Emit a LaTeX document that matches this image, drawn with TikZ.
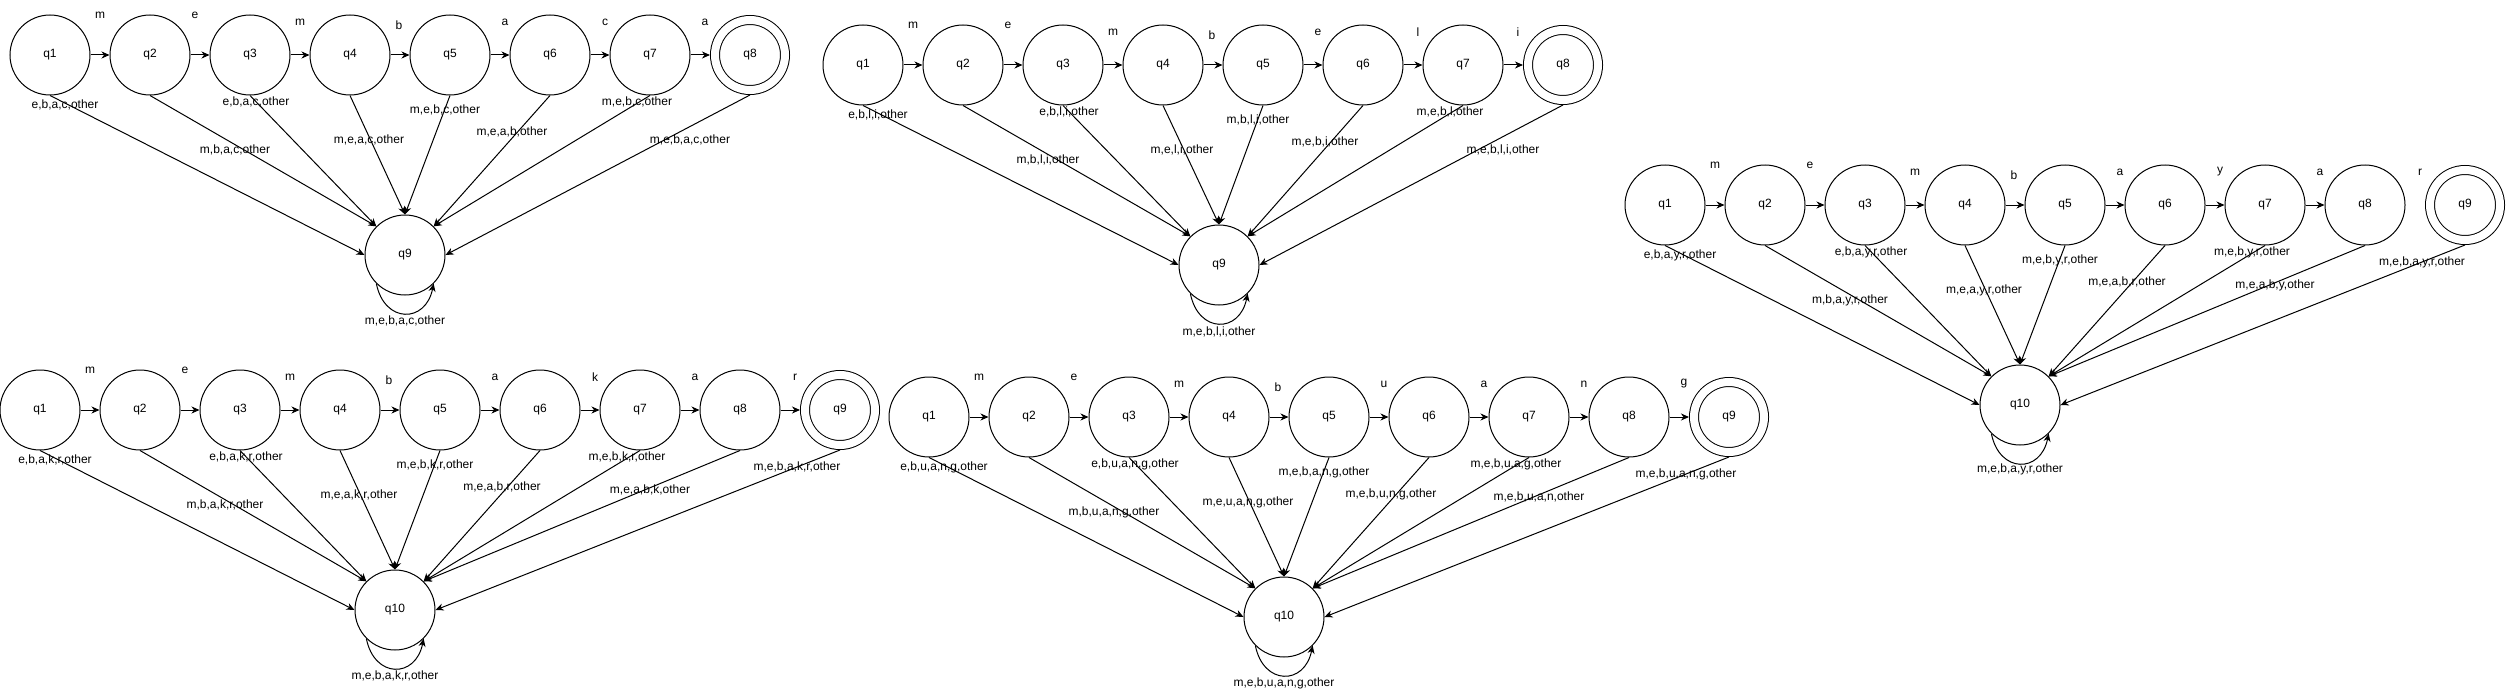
\documentclass[tikz,border=0pt]{standalone}
\usepackage{fontspec}
\setmainfont{Liberation Sans}
\usetikzlibrary{arrows.meta,calc}
\tikzset{
  every node/.style={font=\fontsize{12pt}{14pt}\selectfont},
  st/.style={circle,draw,line width=1pt,minimum size=80pt,inner sep=0pt},
  acc/.style={circle,draw,line width=1pt,double,double distance=8pt,minimum size=70pt,inner sep=0pt,outer sep=5pt},
  arr/.style={line width=1pt,-{Stealth[length=8pt,width=7pt,inset=2.5pt]}},
  lbl/.style={inner sep=0pt},
  loopc/.style={arr},
}
\begin{document}
\begin{tikzpicture}[x=1pt,y=-1pt]
\useasboundingbox (0,0) rectangle (2506,698);

% ---------------- Diagram A (membaca) ----------------
\begin{scope}[shift={(50,55)}]
  \foreach \i in {1,...,7} \node[st] (A\i) at ({(\i-1)*100},0) {q\i};
  \node[acc] (A8) at (700,0) {q8};
  \node[st] (A9) at (355,200) {q9};
  \foreach \i/\j in {1/2,2/3,3/4,4/5,5/6,6/7,7/8} \draw[arr] (A\i.east) -- (A\j.west);
  \foreach \i/\ch/\dx/\dy in {1/m/50/-40,2/e/45/-40,3/m/50/-33,4/b/49/-30,5/a/55/-33,6/c/55/-33,7/a/55/-33}
    \node[lbl] (A-t\i) at ({(\i-1)*100+(\dx)},{\dy}) {\ch};
  \foreach \i/\an/\dx/\dy/\lab in {1/west/15/50/{e,b,a,c,other},2/north west/85/95/{m,b,a,c,other},3/north west/6/47/{e,b,a,c,other},4/north/19/85/{m,e,a,c,other},5/north/-5/55/{m,e,b,c,other},6/north east/-38/77/{m,e,a,b,other},7/north east/-13/47/{m,e,b,c,other},8/east/-60/85/{m,e,b,a,c,other}}{
    \draw[arr] (A\i.south) -- (A9.\an);
    \node[lbl] (A-l\i) at ({(\i-1)*100+(\dx)},{\dy}) {\lab};
  }
  \draw[loopc] (A9.225) .. controls +(8,40) and +(-8,40) .. (A9.315);
  \node[lbl] (A-loop) at (355,266) {m,e,b,a,c,other};
\end{scope}

% ---------------- Diagram B (membeli) ----------------
\begin{scope}[shift={(863,65)}]
  \foreach \i in {1,...,7} \node[st] (B\i) at ({(\i-1)*100},0) {q\i};
  \node[acc] (B8) at (700,0) {q8};
  \node[st] (B9) at (356,200) {q9};
  \foreach \i/\j in {1/2,2/3,3/4,4/5,5/6,6/7,7/8} \draw[arr] (B\i.east) -- (B\j.west);
  \foreach \i/\ch/\dx/\dy in {1/m/50/-40,2/e/45/-40,3/m/50/-33,4/b/49/-30,5/e/55/-33,6/l/55/-33,7/i/55/-33}
    \node[lbl] (B-t\i) at ({(\i-1)*100+(\dx)},{\dy}) {\ch};
  \foreach \i/\an/\dx/\dy/\lab in {1/west/15/50/{e,b,l,i,other},2/north west/85/95/{m,b,l,i,other},3/north west/6/47/{e,b,l,i,other},4/north/19/85/{m,e,l,i,other},5/north/-5/55/{m,b,l,i,other},6/north east/-38/77/{m,e,b,i,other},7/north east/-13/47/{m,e,b,l,other},8/east/-60/85/{m,e,b,l,i,other}}{
    \draw[arr] (B\i.south) -- (B9.\an);
    \node[lbl] (B-l\i) at ({(\i-1)*100+(\dx)},{\dy}) {\lab};
  }
  \draw[loopc] (B9.225) .. controls +(8,40) and +(-8,40) .. (B9.315);
  \node[lbl] (B-loop) at (356,267) {m,e,b,l,i,other};
\end{scope}

% ---------------- Diagram C (membakar) ----------------
\begin{scope}[shift={(40,410)}]
  \foreach \i in {1,...,8} \node[st] (C\i) at ({(\i-1)*100},0) {q\i};
  \node[acc] (C9) at (800,0) {q9};
  \node[st] (C10) at (355,200) {q10};
  \foreach \i/\j in {1/2,2/3,3/4,4/5,5/6,6/7,7/8,8/9} \draw[arr] (C\i.east) -- (C\j.west);
  \foreach \i/\ch/\dx/\dy in {1/m/50/-40,2/e/45/-40,3/m/50/-33,4/b/49/-30,5/a/55/-33,6/k/55/-33,7/a/55/-33,8/r/55/-33}
    \node[lbl] (C-t\i) at ({(\i-1)*100+(\dx)},{\dy}) {\ch};
  \foreach \i/\an/\dx/\dy/\lab in {1/west/15/50/{e,b,a,k,r,other},2/north west/85/95/{m,b,a,k,r,other},3/north west/6/47/{e,b,a,k,r,other},4/north/19/85/{m,e,a,k,r,other},5/north/-5/55/{m,e,b,k,r,other},6/north east/-38/77/{m,e,a,b,r,other},7/north east/-13/47/{m,e,b,k,r,other},8/north east/-90/80/{m,e,a,b,k,other},9/east/-43/57/{m,e,b,a,k,r,other}}{
    \draw[arr] (C\i.south) -- (C10.\an);
    \node[lbl] (C-l\i) at ({(\i-1)*100+(\dx)},{\dy}) {\lab};
  }
  \draw[loopc] (C10.225) .. controls +(8,40) and +(-8,40) .. (C10.315);
  \node[lbl] (C-loop) at (355,266) {m,e,b,a,k,r,other};
\end{scope}

% ---------------- Diagram D (membuang) ----------------
\begin{scope}[shift={(929,417)}]
  \foreach \i in {1,...,8} \node[st] (D\i) at ({(\i-1)*100},0) {q\i};
  \node[acc] (D9) at (800,0) {q9};
  \node[st] (D10) at (355,200) {q10};
  \foreach \i/\j in {1/2,2/3,3/4,4/5,5/6,6/7,7/8,8/9} \draw[arr] (D\i.east) -- (D\j.west);
  \foreach \i/\ch/\dx/\dy in {1/m/50/-40,2/e/45/-40,3/m/50/-33,4/b/49/-30,5/u/55/-33,6/a/55/-33,7/n/55/-33,8/g/55/-33}
    \node[lbl] (D-t\i) at ({(\i-1)*100+(\dx)},{\dy}) {\ch};
  \foreach \i/\an/\dx/\dy/\lab in {1/west/15/50/{e,b,u,a,n,g,other},2/north west/85/95/{m,b,u,a,n,g,other},3/north west/6/47/{e,b,u,a,n,g,other},4/north/19/85/{m,e,u,a,n,g,other},5/north/-5/55/{m,e,b,a,n,g,other},6/north east/-38/77/{m,e,b,u,n,g,other},7/north east/-13/47/{m,e,b,u,a,g,other},8/north east/-90/80/{m,e,b,u,a,n,other},9/east/-43/57/{m,e,b,u,a,n,g,other}}{
    \draw[arr] (D\i.south) -- (D10.\an);
    \node[lbl] (D-l\i) at ({(\i-1)*100+(\dx)},{\dy}) {\lab};
  }
  \draw[loopc] (D10.225) .. controls +(8,40) and +(-8,40) .. (D10.315);
  \node[lbl] (D-loop) at (355,266) {m,e,b,u,a,n,g,other};
\end{scope}

% ---------------- Diagram E (membayar) ----------------
\begin{scope}[shift={(1665,205)}]
  \foreach \i in {1,...,8} \node[st] (E\i) at ({(\i-1)*100},0) {q\i};
  \node[acc] (E9) at (800,0) {q9};
  \node[st] (E10) at (355,200) {q10};
  \foreach \i/\j in {1/2,2/3,3/4,4/5,5/6,6/7,7/8} \draw[arr] (E\i.east) -- (E\j.west);
  \foreach \i/\ch/\dx/\dy in {1/m/50/-40,2/e/45/-40,3/m/50/-33,4/b/49/-30,5/a/55/-33,6/y/55/-33,7/a/55/-33,8/r/55/-33}
    \node[lbl] (E-t\i) at ({(\i-1)*100+(\dx)},{\dy}) {\ch};
  \foreach \i/\an/\dx/\dy/\lab in {1/west/15/50/{e,b,a,y,r,other},2/north west/85/95/{m,b,a,y,r,other},3/north west/6/47/{e,b,a,y,r,other},4/north/19/85/{m,e,a,y,r,other},5/north/-5/55/{m,e,b,y,r,other},6/north east/-38/77/{m,e,a,b,r,other},7/north east/-13/47/{m,e,b,y,r,other},8/north east/-90/80/{m,e,a,b,y,other},9/east/-43/57/{m,e,b,a,y,r,other}}{
    \draw[arr] (E\i.south) -- (E10.\an);
    \node[lbl] (E-l\i) at ({(\i-1)*100+(\dx)},{\dy}) {\lab};
  }
  \draw[loopc] (E10.225) .. controls +(8,40) and +(-8,40) .. (E10.315);
  \node[lbl] (E-loop) at (355,264) {m,e,b,a,y,r,other};
\end{scope}
\end{tikzpicture}
\end{document}
